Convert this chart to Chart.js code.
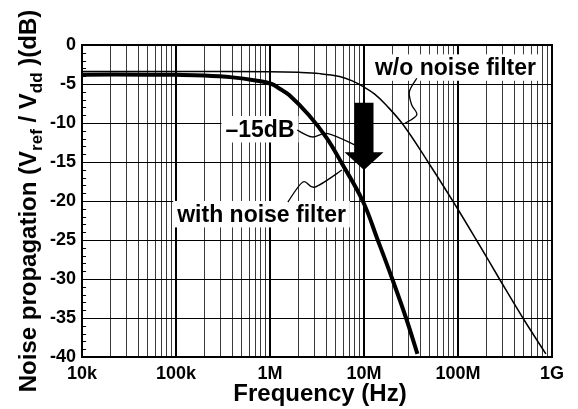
<!DOCTYPE html>
<html><head><meta charset="utf-8">
<script src="https://cdn.jsdelivr.net/npm/chart.js@4/dist/chart.umd.min.js"></script>
<style>html,body{margin:0;padding:0;background:#fff}#wrap{width:578px;height:409px;position:relative}</style>
</head><body><div id="wrap"><canvas id="c" width="578" height="409"></canvas></div>
<script>
// ---- data ----
const freqWith    = [1e4, 5e4, 1e5, 2e5, 4e5, 7e5, 1.04e6, 1.28e6, 1.6e6, 2.6e6, 4e6, 5.7e6, 9.7e6, 1.4e7, 2.0e7, 2.8e7, 3.7e7];
const dbWith      = [-3.8, -3.8, -3.82, -3.9, -4.15, -4.55, -5.0, -5.65, -6.4, -9.0, -11.9, -15, -20, -25, -30, -35, -39.6];
const freqWithout = [1e4, 1e5, 1e6, 2e6, 3.4e6, 5.5e6, 7.5e6, 9.7e6, 1.3e7, 1.72e7, 2.6e7, 4.8e7, 8.8e7, 1.57e8, 2.76e8, 4.9e8, 8.6e8];
const dbWithout   = [-3.4, -3.4, -3.42, -3.5, -3.67, -4.05, -4.6, -5.3, -6.3, -7.7, -10.2, -15, -20, -25, -30, -35, -39.6];
const xTickValues = [1e4, 1e5, 1e6, 1e7, 1e8, 1e9];
const xTickLabels = ['10k', '100k', '1M', '10M', '100M', '1G'];
const yTickValues = [0, -5, -10, -15, -20, -25, -30, -35, -40];
const xTitle = 'Frequency (Hz)';
const yTitleParts = [['Noise propagation (V', false], ['ref', true], [' / V', false], ['dd', true], [' )(dB)', false]];
// annotation texts, anchored in data coordinates [freq, dB]
const labelTexts   = ['w/o noise filter', '–15dB', 'with noise filter'];
const labelAnchors = [[9.4e7, -3.85], [7.83e5, -11.76], [8.13e5, -22.65]];
const leaderWithout = [[3.64e7, -4.27], [3.04e7, -5.99], [3.22e7, -7.69], [3.64e7, -8.97], [2.73e7, -10.04]];
const leader15dB    = [[1.94e6, -10.9], [2.8e6, -11.79], [4.14e6, -11.35], [8.02e6, -12.82]];
const leaderWith    = [[1.55e6, -20.13], [2.24e6, -17.56], [3.01e6, -18.21], [5.83e6, -16.03]];
const arrowAt = [1e7, -7.4, -13.76, -16.03]; // freq, top, shaft end, tip (dB)

const FONT = '"Liberation Sans", Arial, Helvetica, sans-serif';
const isDecade = v => Math.abs(Math.log10(v) - Math.round(Math.log10(v))) < 1e-9;

function smoothPath(ctx, pts) {
  ctx.beginPath();
  ctx.moveTo(pts[0][0], pts[0][1]);
  for (let i = 0; i < pts.length - 1; i++) {
    const p0 = pts[i - 1] || pts[i], p1 = pts[i], p2 = pts[i + 1], p3 = pts[i + 2] || p2;
    const c1x = p1[0] + (p2[0] - p0[0]) / 6, c1y = p1[1] + (p2[1] - p0[1]) / 6;
    const c2x = p2[0] - (p3[0] - p1[0]) / 6, c2y = p2[1] - (p3[1] - p1[1]) / 6;
    ctx.bezierCurveTo(c1x, c1y, c2x, c2y, p2[0], p2[1]);
  }
  ctx.stroke();
}

const deco = {
  id: 'deco',
  afterDatasetsDraw(chart) {
    const ctx = chart.ctx, xs = chart.scales.x, ys = chart.scales.y, a = chart.chartArea;
    const P = d => [xs.getPixelForValue(d[0]), ys.getPixelForValue(d[1])];
    ctx.save();
    // minor y ticks inside the left axis
    ctx.strokeStyle = '#000'; ctx.lineWidth = 1;
    for (let v = -39; v < 0; v++) {
      if (v % 5 === 0) continue;
      const y = Math.round(ys.getPixelForValue(v)) + 0.5;
      ctx.beginPath(); ctx.moveTo(a.left, y); ctx.lineTo(a.left + 4, y); ctx.stroke();
    }
    // label boxes and texts
    const fs = 23;
    ctx.font = 'bold ' + fs + 'px ' + FONT;
    ctx.textAlign = 'center'; ctx.textBaseline = 'alphabetic';
    labelTexts.forEach((t, i) => {
      const [x, y] = P(labelAnchors[i]);
      const w = ctx.measureText(t).width;
      ctx.fillStyle = '#fff';
      ctx.fillRect(x - w / 2 - 4, y - fs * 0.9, w + 8, fs * 1.15);
      ctx.fillStyle = '#000';
      ctx.fillText(t, x, y);
    });
    // leader lines
    ctx.strokeStyle = '#000'; ctx.lineWidth = 1.3;
    [leaderWithout, leader15dB, leaderWith].forEach(l => smoothPath(ctx, l.map(P)));
    // arrow
    const ax = xs.getPixelForValue(arrowAt[0]);
    const yTop = ys.getPixelForValue(arrowAt[1]), yMid = ys.getPixelForValue(arrowAt[2]), yTip = ys.getPixelForValue(arrowAt[3]);
    ctx.fillStyle = '#000';
    ctx.beginPath();
    ctx.moveTo(ax - 9.5, yTop); ctx.lineTo(ax + 9.5, yTop); ctx.lineTo(ax + 9.5, yMid);
    ctx.lineTo(ax + 19.5, yMid); ctx.lineTo(ax, yTip); ctx.lineTo(ax - 19.5, yMid);
    ctx.lineTo(ax - 9.5, yMid); ctx.closePath(); ctx.fill();
    // frame
    ctx.lineWidth = 2; ctx.strokeStyle = '#000';
    ctx.strokeRect(a.left, a.top, a.right - a.left, a.bottom - a.top);
    ctx.restore();
  },
  afterDraw(chart) {
    const ctx = chart.ctx, a = chart.chartArea;
    ctx.save();
    ctx.fillStyle = '#000';
    // x title
    ctx.font = 'bold 24px ' + FONT;
    ctx.textAlign = 'center'; ctx.textBaseline = 'alphabetic';
    ctx.fillText(xTitle, (a.left + a.right) / 2 + 3, 401);
    // y title with subscripts
    const fs = 24, sfs = 17;
    let total = 0;
    yTitleParts.forEach(([t, sub]) => { ctx.font = 'bold ' + (sub ? sfs : fs) + 'px ' + FONT; total += ctx.measureText(t).width; });
    ctx.translate(36, (a.top + a.bottom) / 2);
    ctx.rotate(-Math.PI / 2);
    ctx.textAlign = 'left';
    let x = -total / 2;
    yTitleParts.forEach(([t, sub]) => {
      ctx.font = 'bold ' + (sub ? sfs : fs) + 'px ' + FONT;
      ctx.fillText(t, x, sub ? 6 : 0);
      x += ctx.measureText(t).width;
    });
    ctx.restore();
  }
};

const minorTicks = [];
for (let d = 4; d <= 8; d++) for (let m = 1; m <= 9; m++) minorTicks.push(m * Math.pow(10, d));
minorTicks.push(1e9);

new Chart(document.getElementById('c'), {
  type: 'line',
  data: {
    datasets: [
      { label: 'with noise filter', data: freqWith.map((f, i) => ({ x: f, y: dbWith[i] })),
        borderColor: '#000', borderWidth: 4, pointRadius: 0, fill: false, tension: 0.4 },
      { label: 'w/o noise filter', data: freqWithout.map((f, i) => ({ x: f, y: dbWithout[i] })),
        borderColor: '#000', borderWidth: 1.5, pointRadius: 0, fill: false, tension: 0.4 }
    ]
  },
  options: {
    responsive: false, animation: false, devicePixelRatio: 1,
    layout: { padding: { left: 0, right: 26, top: 45, bottom: 0 } },
    plugins: { legend: { display: false }, tooltip: { enabled: false } },
    scales: {
      x: {
        type: 'logarithmic', min: 1e4, max: 1e9,
        afterBuildTicks: s => { s.ticks = minorTicks.map(v => ({ value: v })); },
        afterFit: s => { s.height = 52; },
        ticks: {
          autoSkip: false, maxRotation: 0, minRotation: 0, color: '#000', padding: 6,
          font: { family: FONT, size: 18, weight: 'bold' },
          callback: v => { const i = xTickValues.findIndex(t => Math.abs(t - v) / t < 1e-9); return i >= 0 ? xTickLabels[i] : ''; }
        },
        grid: {
          drawTicks: false,
          color: c => (c.tick && isDecade(c.tick.value)) ? '#000' : '#3a3a3a',
          lineWidth: c => (c.tick && isDecade(c.tick.value)) ? 2 : 1
        },
        border: { display: true, color: '#000', width: 2 }
      },
      y: {
        type: 'linear', min: -40, max: 0,
        afterBuildTicks: s => { s.ticks = yTickValues.map(v => ({ value: v })); },
        afterFit: s => { s.width = 82; },
        ticks: { color: '#000', padding: 6, font: { family: FONT, size: 18, weight: 'bold' } },
        grid: { drawTicks: false, color: '#000', lineWidth: 1 },
        border: { display: true, color: '#000', width: 2 }
      }
    }
  },
  plugins: [deco]
});
</script></body></html>
